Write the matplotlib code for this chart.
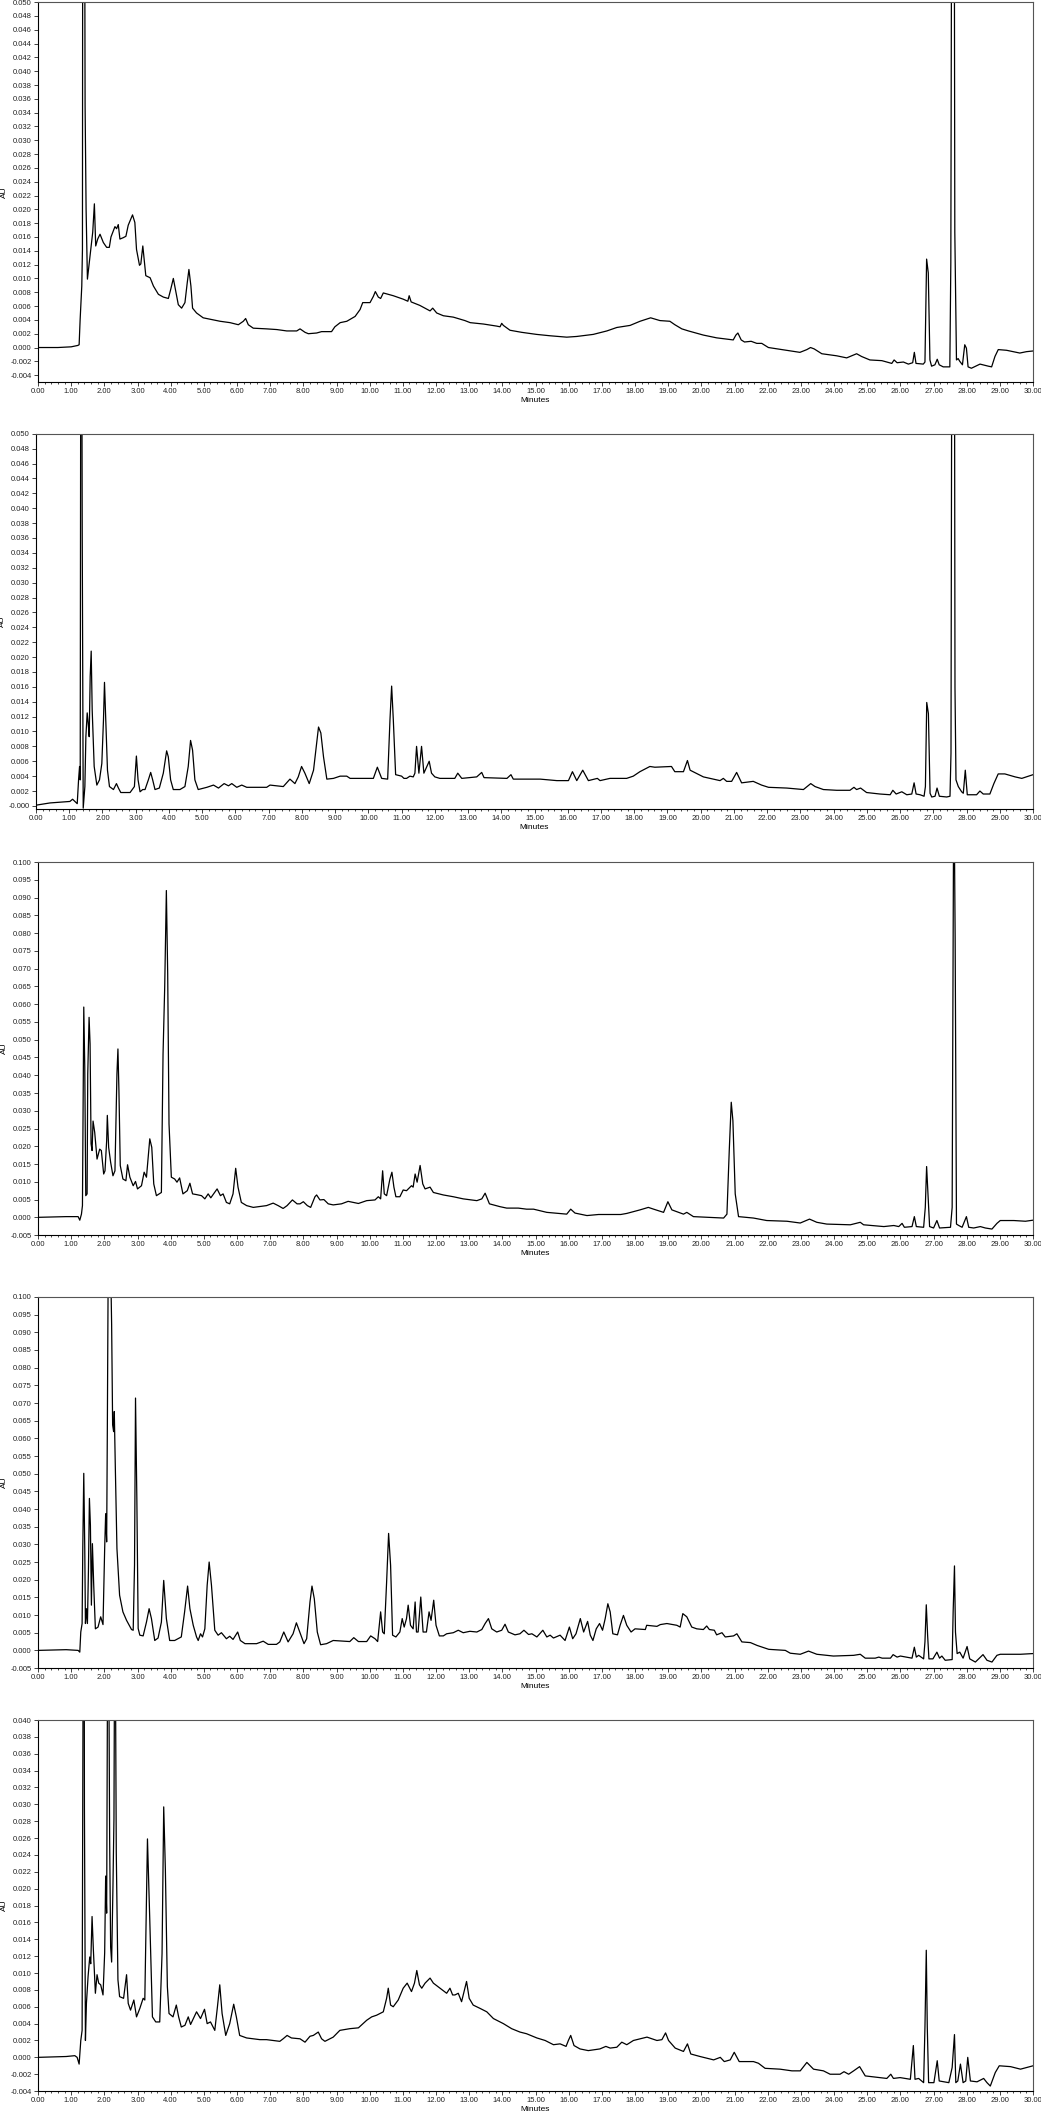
import numpy as np
import matplotlib
matplotlib.use("Agg")
import matplotlib.pyplot as plt
from matplotlib.ticker import MultipleLocator, FormatStrFormatter

plt.rcParams['font.family'] = ['Liberation Sans', 'DejaVu Sans']

# retention time (min), absorbance (AU)
trace1 = [(0.00, 0.0000), (0.60, 0.0000), (1.00, 0.0001), (1.10, 0.0002), (1.20, 0.0003), (1.24, 0.0004),
          (1.27, 0.0040), (1.32, 0.0089), (1.34, 0.0142), (1.35, 0.0800), (1.40, 0.0800), (1.42, 0.0350),
          (1.45, 0.0200), (1.49, 0.0099), (1.57, 0.0133), (1.65, 0.0167), (1.70, 0.0208), (1.74, 0.0147),
          (1.80, 0.0157), (1.87, 0.0164), (1.97, 0.0152), (2.07, 0.0145), (2.15, 0.0145), (2.20, 0.0160),
          (2.32, 0.0175), (2.37, 0.0172), (2.42, 0.0178), (2.47, 0.0157), (2.57, 0.0159), (2.65, 0.0161),
          (2.72, 0.0177), (2.85, 0.0192), (2.92, 0.0181), (2.97, 0.0142), (3.06, 0.0119), (3.10, 0.0121),
          (3.16, 0.0147), (3.21, 0.0123), (3.25, 0.0104), (3.38, 0.0101), (3.48, 0.0089), (3.63, 0.0077),
          (3.78, 0.0073), (3.93, 0.0071), (4.00, 0.0084), (4.08, 0.0100), (4.15, 0.0082), (4.23, 0.0062),
          (4.33, 0.0057), (4.43, 0.0065), (4.50, 0.0094), (4.55, 0.0113), (4.61, 0.0089), (4.66, 0.0057),
          (4.78, 0.0050), (4.98, 0.0043), (5.29, 0.0040), (5.49, 0.0038), (5.79, 0.0036), (6.04, 0.0033),
          (6.19, 0.0038), (6.26, 0.0042), (6.34, 0.0033), (6.49, 0.0028), (6.89, 0.0027), (7.20, 0.0026),
          (7.50, 0.0024), (7.80, 0.0024), (7.90, 0.0027), (8.05, 0.0022), (8.15, 0.0020), (8.40, 0.0021),
          (8.55, 0.0023), (8.85, 0.0023), (8.95, 0.0030), (9.11, 0.0036), (9.31, 0.0038), (9.56, 0.0045),
          (9.71, 0.0055), (9.79, 0.0065), (10.01, 0.0065), (10.11, 0.0074), (10.17, 0.0081), (10.26, 0.0073),
          (10.33, 0.0071), (10.41, 0.0079), (10.71, 0.0075), (11.01, 0.0070), (11.15, 0.0067), (11.19, 0.0075),
          (11.25, 0.0066), (11.51, 0.0061), (11.82, 0.0053), (11.90, 0.0057), (12.02, 0.0050), (12.22, 0.0046),
          (12.52, 0.0044), (12.87, 0.0039), (13.03, 0.0036), (13.43, 0.0034), (13.83, 0.0031), (13.93, 0.0030),
          (13.98, 0.0035), (14.03, 0.0032), (14.23, 0.0025), (14.58, 0.0022), (15.03, 0.0019), (15.44, 0.0017),
          (15.94, 0.0015), (16.24, 0.0016), (16.74, 0.0019), (17.15, 0.0024), (17.45, 0.0029), (17.85, 0.0032),
          (18.15, 0.0038), (18.47, 0.0043), (18.75, 0.0039), (19.05, 0.0038), (19.20, 0.0033), (19.41, 0.0027),
          (19.61, 0.0024), (20.06, 0.0018), (20.46, 0.0014), (20.96, 0.0011), (21.04, 0.0018), (21.10, 0.0021),
          (21.20, 0.0011), (21.30, 0.0008), (21.50, 0.0009), (21.67, 0.0006), (21.82, 0.0006), (22.02, 0.0000),
          (22.57, -0.0004), (22.97, -0.0007), (23.18, -0.0003), (23.29, 0.0000), (23.40, -0.0002), (23.63, -0.0009),
          (24.08, -0.0012), (24.38, -0.0015), (24.58, -0.0011), (24.68, -0.0009), (24.83, -0.0013), (25.08, -0.0018),
          (25.44, -0.0019), (25.74, -0.0023), (25.81, -0.0018), (25.90, -0.0022), (26.09, -0.0021), (26.24, -0.0024),
          (26.37, -0.0022), (26.42, -0.0007), (26.47, -0.0023), (26.69, -0.0024), (26.74, -0.0021), (26.79, 0.0128),
          (26.84, 0.0108), (26.89, -0.0018), (26.94, -0.0027), (27.04, -0.0025), (27.11, -0.0017), (27.17, -0.0025),
          (27.29, -0.0028), (27.49, -0.0028), (27.52, 0.0123), (27.55, 0.0800), (27.62, 0.0800), (27.64, 0.0167),
          (27.69, -0.0018), (27.74, -0.0016), (27.79, -0.0020), (27.87, -0.0025), (27.94, 0.0004), (27.99, -0.0001),
          (28.04, -0.0028), (28.14, -0.0030), (28.40, -0.0024), (28.65, -0.0027), (28.75, -0.0028), (28.85, -0.0013),
          (28.95, -0.0003), (29.20, -0.0004), (29.60, -0.0008), (29.80, -0.0006), (30.00, -0.0005)]

trace2 = [(0.00, 0.0001), (0.42, 0.0004), (1.02, 0.0006), (1.10, 0.0009), (1.17, 0.0006), (1.24, 0.0003),
          (1.28, 0.0035), (1.31, 0.0053), (1.33, 0.0035), (1.35, 0.0800), (1.37, 0.0800), (1.39, 0.0370),
          (1.40, 0.0255), (1.42, -0.0003), (1.47, 0.0026), (1.50, 0.0093), (1.54, 0.0125), (1.57, 0.0111),
          (1.60, 0.0093), (1.63, 0.0174), (1.66, 0.0208), (1.69, 0.0129), (1.75, 0.0053), (1.83, 0.0028),
          (1.91, 0.0035), (1.98, 0.0057), (2.03, 0.0116), (2.06, 0.0166), (2.10, 0.0113), (2.15, 0.0048),
          (2.21, 0.0026), (2.33, 0.0022), (2.42, 0.0030), (2.48, 0.0024), (2.55, 0.0018), (2.83, 0.0018),
          (2.96, 0.0026), (3.02, 0.0067), (3.07, 0.0035), (3.13, 0.0019), (3.21, 0.0022), (3.28, 0.0022),
          (3.38, 0.0035), (3.45, 0.0045), (3.51, 0.0035), (3.58, 0.0022), (3.71, 0.0024), (3.83, 0.0044),
          (3.93, 0.0074), (3.98, 0.0066), (4.05, 0.0035), (4.13, 0.0022), (4.33, 0.0022), (4.48, 0.0026),
          (4.58, 0.0053), (4.65, 0.0088), (4.71, 0.0075), (4.78, 0.0035), (4.88, 0.0022), (5.14, 0.0025),
          (5.34, 0.0028), (5.49, 0.0024), (5.66, 0.0030), (5.79, 0.0027), (5.89, 0.0030), (6.04, 0.0025),
          (6.19, 0.0028), (6.34, 0.0025), (6.94, 0.0025), (7.04, 0.0028), (7.44, 0.0026), (7.64, 0.0036),
          (7.79, 0.0030), (7.89, 0.0039), (7.99, 0.0053), (8.09, 0.0044), (8.22, 0.0030), (8.35, 0.0048),
          (8.50, 0.0106), (8.57, 0.0098), (8.65, 0.0066), (8.75, 0.0036), (8.95, 0.0037), (9.15, 0.0040),
          (9.35, 0.0040), (9.45, 0.0037), (10.15, 0.0037), (10.27, 0.0052), (10.40, 0.0037), (10.58, 0.0036),
          (10.65, 0.0116), (10.70, 0.0161), (10.75, 0.0116), (10.82, 0.0042), (11.00, 0.0040), (11.07, 0.0037),
          (11.15, 0.0037), (11.25, 0.0040), (11.35, 0.0039), (11.40, 0.0044), (11.45, 0.0080), (11.52, 0.0044),
          (11.60, 0.0080), (11.67, 0.0044), (11.83, 0.0060), (11.90, 0.0044), (12.00, 0.0039), (12.15, 0.0037),
          (12.60, 0.0037), (12.69, 0.0044), (12.81, 0.0037), (13.26, 0.0039), (13.41, 0.0045), (13.48, 0.0038),
          (14.17, 0.0037), (14.29, 0.0042), (14.36, 0.0036), (15.17, 0.0036), (15.67, 0.0034), (16.02, 0.0034),
          (16.14, 0.0046), (16.27, 0.0034), (16.45, 0.0048), (16.62, 0.0034), (16.89, 0.0037), (16.97, 0.0034),
          (17.27, 0.0037), (17.77, 0.0037), (17.97, 0.0040), (18.17, 0.0046), (18.47, 0.0053), (18.62, 0.0052),
          (19.12, 0.0053), (19.22, 0.0046), (19.48, 0.0046), (19.60, 0.0061), (19.68, 0.0048), (20.08, 0.0039),
          (20.58, 0.0034), (20.68, 0.0037), (20.78, 0.0033), (20.93, 0.0033), (21.08, 0.0045), (21.23, 0.0031),
          (21.58, 0.0033), (21.83, 0.0028), (22.04, 0.0025), (22.59, 0.0024), (23.09, 0.0022), (23.31, 0.0030),
          (23.44, 0.0026), (23.69, 0.0022), (24.09, 0.0021), (24.49, 0.0021), (24.61, 0.0025), (24.69, 0.0022),
          (24.81, 0.0024), (24.99, 0.0018), (25.39, 0.0016), (25.70, 0.0015), (25.78, 0.0021), (25.88, 0.0016),
          (26.05, 0.0019), (26.20, 0.0015), (26.35, 0.0016), (26.42, 0.0031), (26.48, 0.0016), (26.60, 0.0015),
          (26.72, 0.0013), (26.76, 0.0026), (26.80, 0.0139), (26.85, 0.0124), (26.90, 0.0017), (26.95, 0.0012),
          (27.05, 0.0013), (27.11, 0.0024), (27.18, 0.0013), (27.40, 0.0012), (27.50, 0.0013), (27.53, 0.0071),
          (27.56, 0.0800), (27.63, 0.0800), (27.65, 0.0159), (27.68, 0.0035), (27.75, 0.0026), (27.85, 0.0019),
          (27.90, 0.0017), (27.96, 0.0048), (28.02, 0.0015), (28.30, 0.0015), (28.40, 0.0020), (28.50, 0.0016),
          (28.70, 0.0016), (28.82, 0.0030), (28.95, 0.0043), (29.15, 0.0043), (29.46, 0.0039), (29.66, 0.0037),
          (30.00, 0.0042)]

trace3 = [(0.00, 0.0000), (0.85, 0.0002), (1.21, 0.0002), (1.26, -0.0008), (1.31, 0.0009), (1.34, 0.0033),
          (1.36, 0.0310), (1.38, 0.0592), (1.41, 0.0423), (1.44, 0.0061), (1.48, 0.0066), (1.50, 0.0404),
          (1.54, 0.0563), (1.57, 0.0488), (1.60, 0.0207), (1.63, 0.0188), (1.66, 0.0271), (1.71, 0.0239),
          (1.78, 0.0164), (1.86, 0.0192), (1.91, 0.0188), (1.98, 0.0122), (2.02, 0.0131), (2.07, 0.0216),
          (2.09, 0.0287), (2.13, 0.0197), (2.19, 0.0155), (2.26, 0.0117), (2.32, 0.0131), (2.38, 0.0404),
          (2.41, 0.0474), (2.44, 0.0357), (2.48, 0.0146), (2.56, 0.0108), (2.65, 0.0103), (2.70, 0.0148),
          (2.77, 0.0113), (2.87, 0.0089), (2.94, 0.0101), (3.00, 0.0080), (3.12, 0.0089), (3.20, 0.0127),
          (3.27, 0.0113), (3.37, 0.0221), (3.43, 0.0197), (3.49, 0.0094), (3.57, 0.0061), (3.72, 0.0070),
          (3.77, 0.0460), (3.82, 0.0648), (3.87, 0.0920), (3.91, 0.0686), (3.95, 0.0263), (4.02, 0.0113),
          (4.12, 0.0108), (4.19, 0.0099), (4.27, 0.0111), (4.37, 0.0066), (4.50, 0.0075), (4.58, 0.0096),
          (4.66, 0.0066), (4.78, 0.0064), (4.93, 0.0061), (5.03, 0.0052), (5.13, 0.0066), (5.21, 0.0055),
          (5.40, 0.0080), (5.50, 0.0061), (5.58, 0.0066), (5.68, 0.0042), (5.78, 0.0038), (5.88, 0.0066),
          (5.96, 0.0138), (6.03, 0.0085), (6.13, 0.0042), (6.29, 0.0033), (6.49, 0.0028), (6.89, 0.0033),
          (7.09, 0.0040), (7.24, 0.0033), (7.39, 0.0025), (7.51, 0.0033), (7.67, 0.0049), (7.81, 0.0038),
          (7.90, 0.0038), (8.00, 0.0044), (8.12, 0.0033), (8.22, 0.0028), (8.35, 0.0058), (8.40, 0.0063),
          (8.50, 0.0049), (8.62, 0.0050), (8.75, 0.0038), (8.90, 0.0035), (9.15, 0.0038), (9.35, 0.0045),
          (9.66, 0.0039), (9.91, 0.0047), (10.16, 0.0049), (10.26, 0.0058), (10.33, 0.0052), (10.39, 0.0131),
          (10.44, 0.0066), (10.51, 0.0061), (10.61, 0.0108), (10.67, 0.0127), (10.73, 0.0085), (10.79, 0.0058),
          (10.91, 0.0058), (11.01, 0.0077), (11.11, 0.0075), (11.26, 0.0089), (11.31, 0.0085), (11.37, 0.0122),
          (11.43, 0.0099), (11.52, 0.0146), (11.60, 0.0094), (11.67, 0.0080), (11.82, 0.0085), (11.92, 0.0070),
          (12.22, 0.0063), (12.52, 0.0058), (12.82, 0.0052), (13.23, 0.0047), (13.38, 0.0052), (13.48, 0.0068),
          (13.61, 0.0038), (13.93, 0.0030), (14.13, 0.0026), (14.48, 0.0026), (14.73, 0.0023), (14.94, 0.0023),
          (15.34, 0.0014), (15.94, 0.0009), (16.06, 0.0023), (16.19, 0.0012), (16.55, 0.0005), (16.90, 0.0008),
          (17.57, 0.0008), (17.75, 0.0011), (18.15, 0.0021), (18.40, 0.0028), (18.56, 0.0023), (18.86, 0.0014),
          (18.99, 0.0044), (19.11, 0.0021), (19.46, 0.0009), (19.56, 0.0014), (19.76, 0.0002), (20.67, -0.0002),
          (20.77, 0.0009), (20.84, 0.0188), (20.90, 0.0324), (20.95, 0.0272), (21.02, 0.0066), (21.12, 0.0002),
          (21.57, -0.0002), (21.97, -0.0009), (22.58, -0.0011), (22.98, -0.0016), (23.26, -0.0005), (23.48, -0.0014),
          (23.78, -0.0019), (24.49, -0.0021), (24.79, -0.0014), (24.89, -0.0021), (25.50, -0.0026), (25.80, -0.0023),
          (25.95, -0.0026), (26.05, -0.0017), (26.12, -0.0028), (26.35, -0.0026), (26.42, 0.0002), (26.48, -0.0026),
          (26.70, -0.0028), (26.75, 0.0028), (26.79, 0.0143), (26.83, 0.0066), (26.88, -0.0026), (27.00, -0.0030),
          (27.10, -0.0009), (27.18, -0.0030), (27.51, -0.0028), (27.56, 0.0028), (27.60, 0.1040), (27.63, 0.1040),
          (27.65, 0.0789), (27.69, -0.0019), (27.76, -0.0023), (27.86, -0.0028), (27.99, 0.0002), (28.06, -0.0028),
          (28.21, -0.0030), (28.41, -0.0026), (28.56, -0.0030), (28.76, -0.0033), (28.91, -0.0017), (29.01, -0.0009),
          (29.42, -0.0009), (29.77, -0.0011), (30.00, -0.0008)]

trace4 = [(0.00, 0.0000), (0.85, 0.0002), (1.21, 0.0000), (1.26, -0.0005), (1.29, 0.0052), (1.33, 0.0076),
          (1.35, 0.0288), (1.38, 0.0501), (1.41, 0.0288), (1.43, 0.0076), (1.46, 0.0118), (1.49, 0.0076),
          (1.52, 0.0222), (1.55, 0.0430), (1.58, 0.0354), (1.61, 0.0128), (1.64, 0.0302), (1.68, 0.0184),
          (1.73, 0.0061), (1.81, 0.0066), (1.89, 0.0095), (1.96, 0.0073), (2.01, 0.0288), (2.04, 0.0387),
          (2.07, 0.0307), (2.09, 0.0619), (2.12, 0.1150), (2.18, 0.1150), (2.22, 0.0922), (2.25, 0.0638),
          (2.28, 0.0619), (2.30, 0.0676), (2.33, 0.0524), (2.38, 0.0288), (2.46, 0.0156), (2.56, 0.0109),
          (2.67, 0.0085), (2.82, 0.0059), (2.87, 0.0057), (2.91, 0.0241), (2.94, 0.0714), (2.98, 0.0430),
          (3.02, 0.0062), (3.07, 0.0043), (3.17, 0.0041), (3.27, 0.0080), (3.35, 0.0118), (3.42, 0.0090),
          (3.52, 0.0028), (3.62, 0.0035), (3.72, 0.0080), (3.79, 0.0198), (3.87, 0.0090), (3.97, 0.0028),
          (4.12, 0.0028), (4.32, 0.0038), (4.42, 0.0109), (4.51, 0.0182), (4.58, 0.0118), (4.68, 0.0071),
          (4.78, 0.0038), (4.83, 0.0028), (4.90, 0.0047), (4.96, 0.0038), (5.03, 0.0061), (5.10, 0.0184),
          (5.16, 0.0250), (5.23, 0.0184), (5.33, 0.0057), (5.43, 0.0043), (5.53, 0.0050), (5.68, 0.0033),
          (5.78, 0.0040), (5.88, 0.0031), (6.02, 0.0052), (6.10, 0.0028), (6.24, 0.0019), (6.59, 0.0019),
          (6.79, 0.0026), (6.94, 0.0017), (7.19, 0.0017), (7.29, 0.0024), (7.41, 0.0052), (7.54, 0.0024),
          (7.69, 0.0047), (7.79, 0.0078), (7.89, 0.0052), (8.02, 0.0019), (8.10, 0.0033), (8.20, 0.0137),
          (8.26, 0.0182), (8.33, 0.0146), (8.42, 0.0052), (8.52, 0.0016), (8.70, 0.0019), (8.90, 0.0028),
          (9.40, 0.0025), (9.52, 0.0036), (9.66, 0.0025), (9.91, 0.0025), (10.03, 0.0041), (10.16, 0.0033),
          (10.24, 0.0025), (10.33, 0.0109), (10.39, 0.0052), (10.44, 0.0047), (10.51, 0.0193), (10.57, 0.0331),
          (10.63, 0.0241), (10.69, 0.0043), (10.79, 0.0038), (10.91, 0.0052), (10.98, 0.0090), (11.04, 0.0066),
          (11.11, 0.0090), (11.16, 0.0128), (11.23, 0.0071), (11.31, 0.0061), (11.37, 0.0137), (11.41, 0.0052),
          (11.46, 0.0052), (11.54, 0.0151), (11.61, 0.0052), (11.71, 0.0052), (11.79, 0.0109), (11.85, 0.0085),
          (11.93, 0.0142), (12.00, 0.0071), (12.10, 0.0041), (12.22, 0.0041), (12.32, 0.0047), (12.52, 0.0050),
          (12.67, 0.0057), (12.82, 0.0050), (13.02, 0.0054), (13.23, 0.0052), (13.38, 0.0059), (13.48, 0.0076),
          (13.58, 0.0090), (13.68, 0.0061), (13.83, 0.0052), (13.98, 0.0057), (14.08, 0.0074), (14.18, 0.0052),
          (14.38, 0.0044), (14.53, 0.0047), (14.65, 0.0057), (14.79, 0.0045), (14.89, 0.0047), (15.04, 0.0038),
          (15.22, 0.0057), (15.34, 0.0038), (15.44, 0.0043), (15.54, 0.0035), (15.74, 0.0043), (15.89, 0.0028),
          (16.02, 0.0066), (16.12, 0.0033), (16.22, 0.0047), (16.35, 0.0090), (16.45, 0.0052), (16.57, 0.0082),
          (16.65, 0.0043), (16.73, 0.0028), (16.83, 0.0061), (16.93, 0.0076), (17.02, 0.0057), (17.10, 0.0090),
          (17.18, 0.0132), (17.25, 0.0109), (17.33, 0.0047), (17.47, 0.0044), (17.55, 0.0071), (17.65, 0.0099),
          (17.75, 0.0071), (17.88, 0.0052), (18.00, 0.0061), (18.31, 0.0059), (18.35, 0.0071), (18.66, 0.0068),
          (18.76, 0.0073), (18.96, 0.0076), (19.26, 0.0071), (19.36, 0.0066), (19.44, 0.0104), (19.56, 0.0095),
          (19.71, 0.0066), (19.86, 0.0061), (20.06, 0.0059), (20.16, 0.0069), (20.24, 0.0059), (20.39, 0.0057),
          (20.46, 0.0044), (20.62, 0.0050), (20.72, 0.0038), (20.97, 0.0041), (21.07, 0.0047), (21.22, 0.0024),
          (21.48, 0.0022), (21.68, 0.0014), (22.03, 0.0003), (22.53, 0.0000), (22.68, -0.0008), (22.98, -0.0011),
          (23.23, -0.0002), (23.48, -0.0011), (23.98, -0.0016), (24.59, -0.0014), (24.79, -0.0011), (24.94, -0.0022),
          (25.24, -0.0022), (25.35, -0.0019), (25.45, -0.0022), (25.70, -0.0022), (25.78, -0.0012), (25.90, -0.0019),
          (26.00, -0.0016), (26.35, -0.0022), (26.42, 0.0009), (26.48, -0.0019), (26.55, -0.0014), (26.70, -0.0024),
          (26.74, 0.0024), (26.78, 0.0129), (26.82, 0.0043), (26.86, -0.0024), (26.98, -0.0024), (27.10, -0.0005),
          (27.18, -0.0022), (27.25, -0.0016), (27.35, -0.0028), (27.56, -0.0026), (27.59, 0.0109), (27.63, 0.0239),
          (27.66, 0.0052), (27.71, -0.0009), (27.79, -0.0005), (27.89, -0.0022), (28.01, 0.0011), (28.09, -0.0024),
          (28.26, -0.0033), (28.49, -0.0012), (28.61, -0.0028), (28.76, -0.0033), (28.91, -0.0014), (29.01, -0.0011),
          (29.62, -0.0011), (30.00, -0.0009)]

trace5 = [(0.00, 0.0000), (0.85, 0.0001), (1.11, 0.0002), (1.18, 0.0000), (1.24, -0.0008), (1.29, 0.0020),
          (1.33, 0.0032), (1.35, 0.0314), (1.37, 0.0600), (1.39, 0.0600), (1.40, 0.0295), (1.43, 0.0020),
          (1.46, 0.0064), (1.51, 0.0096), (1.56, 0.0119), (1.59, 0.0111), (1.63, 0.0167), (1.67, 0.0127),
          (1.73, 0.0076), (1.78, 0.0098), (1.83, 0.0088), (1.89, 0.0086), (1.96, 0.0074), (2.01, 0.0124),
          (2.04, 0.0215), (2.07, 0.0171), (2.10, 0.0500), (2.13, 0.0500), (2.16, 0.0259), (2.19, 0.0131),
          (2.22, 0.0113), (2.26, 0.0203), (2.29, 0.0283), (2.31, 0.0500), (2.33, 0.0500), (2.36, 0.0243),
          (2.41, 0.0092), (2.46, 0.0072), (2.58, 0.0070), (2.67, 0.0098), (2.72, 0.0064), (2.79, 0.0056),
          (2.89, 0.0068), (2.97, 0.0048), (3.07, 0.0058), (3.17, 0.0070), (3.22, 0.0068), (3.30, 0.0259),
          (3.37, 0.0163), (3.45, 0.0048), (3.55, 0.0042), (3.67, 0.0042), (3.74, 0.0123), (3.79, 0.0297),
          (3.84, 0.0223), (3.90, 0.0084), (3.95, 0.0052), (4.07, 0.0048), (4.17, 0.0062), (4.24, 0.0048),
          (4.32, 0.0036), (4.43, 0.0038), (4.53, 0.0048), (4.60, 0.0039), (4.78, 0.0054), (4.90, 0.0046),
          (5.02, 0.0057), (5.10, 0.0040), (5.20, 0.0042), (5.33, 0.0032), (5.41, 0.0060), (5.48, 0.0086),
          (5.55, 0.0052), (5.66, 0.0026), (5.78, 0.0040), (5.90, 0.0063), (5.98, 0.0048), (6.08, 0.0026),
          (6.29, 0.0023), (6.69, 0.0021), (6.89, 0.0021), (7.29, 0.0019), (7.39, 0.0022), (7.51, 0.0026),
          (7.64, 0.0023), (7.90, 0.0022), (8.05, 0.0018), (8.20, 0.0025), (8.30, 0.0026), (8.45, 0.0030),
          (8.55, 0.0022), (8.65, 0.0019), (8.90, 0.0024), (9.10, 0.0032), (9.40, 0.0034), (9.66, 0.0035),
          (9.91, 0.0044), (10.06, 0.0048), (10.21, 0.0050), (10.41, 0.0054), (10.51, 0.0070), (10.56, 0.0082),
          (10.63, 0.0062), (10.71, 0.0060), (10.86, 0.0068), (11.01, 0.0082), (11.13, 0.0088), (11.26, 0.0078),
          (11.35, 0.0088), (11.42, 0.0103), (11.50, 0.0086), (11.57, 0.0082), (11.67, 0.0088), (11.82, 0.0094),
          (11.92, 0.0088), (12.12, 0.0082), (12.32, 0.0076), (12.42, 0.0082), (12.50, 0.0074), (12.57, 0.0074),
          (12.67, 0.0076), (12.77, 0.0066), (12.85, 0.0079), (12.92, 0.0090), (13.00, 0.0070), (13.12, 0.0062),
          (13.33, 0.0058), (13.53, 0.0054), (13.73, 0.0046), (14.03, 0.0040), (14.28, 0.0034), (14.53, 0.0030),
          (14.73, 0.0028), (15.04, 0.0023), (15.29, 0.0020), (15.54, 0.0015), (15.74, 0.0016), (15.92, 0.0013),
          (15.99, 0.0020), (16.06, 0.0026), (16.16, 0.0014), (16.34, 0.0010), (16.59, 0.0008), (16.94, 0.0010),
          (17.12, 0.0013), (17.25, 0.0011), (17.45, 0.0012), (17.60, 0.0018), (17.75, 0.0015), (17.95, 0.0020),
          (18.36, 0.0024), (18.66, 0.0020), (18.81, 0.0021), (18.92, 0.0029), (19.01, 0.0020), (19.21, 0.0011),
          (19.46, 0.0007), (19.58, 0.0016), (19.68, 0.0004), (19.96, 0.0001), (20.37, -0.0003), (20.57, 0.0000),
          (20.69, -0.0005), (20.87, -0.0003), (20.99, 0.0006), (21.14, -0.0005), (21.57, -0.0005), (21.72, -0.0007),
          (21.92, -0.0013), (22.37, -0.0014), (22.73, -0.0016), (22.98, -0.0016), (23.18, -0.0006), (23.38, -0.0014),
          (23.68, -0.0016), (23.88, -0.0020), (24.18, -0.0020), (24.30, -0.0017), (24.44, -0.0020), (24.59, -0.0016),
          (24.77, -0.0011), (24.94, -0.0022), (25.39, -0.0024), (25.59, -0.0025), (25.71, -0.0020), (25.79, -0.0025),
          (25.99, -0.0024), (26.30, -0.0026), (26.35, -0.0004), (26.39, 0.0014), (26.44, -0.0026), (26.55, -0.0025),
          (26.70, -0.0030), (26.74, 0.0036), (26.78, 0.0127), (26.81, 0.0036), (26.85, -0.0030), (27.01, -0.0030),
          (27.11, -0.0004), (27.17, -0.0028), (27.46, -0.0030), (27.56, -0.0012), (27.63, 0.0027), (27.67, -0.0030),
          (27.73, -0.0028), (27.81, -0.0008), (27.89, -0.0030), (27.97, -0.0028), (28.03, 0.0000), (28.11, -0.0028),
          (28.31, -0.0029), (28.51, -0.0025), (28.61, -0.0030), (28.71, -0.0034), (28.86, -0.0018), (28.98, -0.0010),
          (29.32, -0.0011), (29.62, -0.0014), (30.00, -0.0010)]

traces = [trace1, trace2, trace3, trace4, trace5]
ylims = [(-0.005, 0.050), (-0.0004, 0.050), (-0.005, 0.100), (-0.005, 0.100), (-0.004, 0.040)]
ysteps = [0.002, 0.002, 0.005, 0.005, 0.002]

# axes boxes in figure fractions (left, bottom, width, height)
boxes = [(0.0365, 0.8191, 0.9559, 0.1799),
         (0.0346, 0.6170, 0.9578, 0.1776),
         (0.0365, 0.4152, 0.9559, 0.1766),
         (0.0365, 0.2102, 0.9559, 0.1757),
         (0.0365, 0.0099, 0.9559, 0.1757)]

fig = plt.figure(figsize=(10.41, 21.12), dpi=100)

for i in range(5):
    ax = fig.add_axes(boxes[i])
    d = np.array(traces[i])
    ax.plot(d[:, 0], d[:, 1], color='black', lw=0.9)
    ax.set_xlim(0, 30)
    ax.set_ylim(*ylims[i])
    ax.xaxis.set_major_locator(MultipleLocator(1.0))
    ax.xaxis.set_minor_locator(MultipleLocator(0.2))
    ax.xaxis.set_major_formatter(FormatStrFormatter('%.2f'))
    lo, hi = ylims[i]
    st = ysteps[i]
    first = np.ceil(lo / st - 1e-6) * st
    ax.set_yticks(np.arange(first, hi + st / 2, st))
    ax.yaxis.set_major_formatter(FormatStrFormatter('%.3f'))
    ax.tick_params(axis='both', which='major', labelsize=5.5, length=3, width=0.6,
                   direction='out', pad=1.5, colors='#222222')
    ax.tick_params(axis='x', which='minor', length=1.5, width=0.5)
    for s in ['left', 'bottom']:
        ax.spines[s].set_color('black')
        ax.spines[s].set_linewidth(0.8)
    for s in ['top', 'right']:
        ax.spines[s].set_color('#555555')
        ax.spines[s].set_linewidth(0.8)
    ax.set_ylabel('AU', fontsize=6, labelpad=2)
    ax.set_xlabel('Minutes', fontsize=6, labelpad=1)

fig.savefig('out.png', dpi=100)
